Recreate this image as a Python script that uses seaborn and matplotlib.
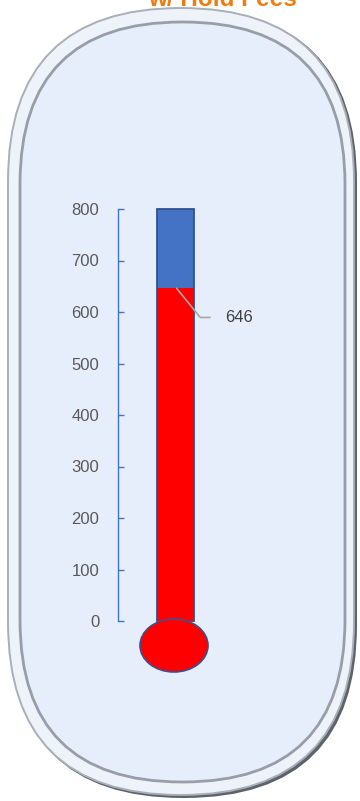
import matplotlib
matplotlib.use("Agg")
import matplotlib.pyplot as plt
from matplotlib.patches import FancyBboxPatch, Ellipse
import seaborn as sns

# ---- data ----
categories = ["w/ Hold Fees"]
max_values = [800]
values = [646]
tick_values = [0, 100, 200, 300, 400, 500, 600, 700, 800]
tick_labels = ["0", "100", "200", "300", "400", "500", "600", "700", "800"]
title_text = "w/ Hold Fees"

BLUE = "#4472C4"
BLUE_EDGE = "#2F528F"
RED = "#FF0000"
AXIS_BLUE = "#4472C4"
LABEL_GREY = "#595959"

W, H = 360, 801
fig = plt.figure(figsize=(W / 100, H / 100), dpi=100)
fig.patch.set_facecolor("white")

# ---- background capsule (pixel coordinates) ----
bg = fig.add_axes([0, 0, 1, 1], zorder=0)
bg.set_xlim(0, W)
bg.set_ylim(H, 0)
bg.axis("off")

# shadow
bg.add_patch(FancyBboxPatch((10, 9), 347, 789, boxstyle="round,pad=0,rounding_size=173",
                            facecolor="#5E636B", edgecolor="none"))
# outer rim
bg.add_patch(FancyBboxPatch((8, 8), 346, 787, boxstyle="round,pad=0,rounding_size=173",
                            facecolor="#EEF2F9", edgecolor="#A9AFB8", linewidth=1.4))
# inner face
bg.add_patch(FancyBboxPatch((20, 22), 325, 760, boxstyle="round,pad=0,rounding_size=162",
                            facecolor="#E7EEFB", edgecolor="#979EA9", linewidth=2.0))

# ---- chart axes ----
ax = fig.add_axes([118 / W, (H - 621) / H, 115 / W, 412 / H], zorder=1)
ax.set_facecolor("none")

sns.barplot(x=categories, y=max_values, color=BLUE, saturation=1, width=0.965,
            edgecolor=BLUE_EDGE, linewidth=1.3, ax=ax)
sns.barplot(x=categories, y=values, color=RED, saturation=1, width=0.965,
            edgecolor=RED, linewidth=0, ax=ax)
for p in ax.patches:
    p.set_clip_on(False)

ax.set_xlim(-1.5, 1.5)
ax.set_ylim(0, 800)
ax.set_yticks(tick_values)
ax.set_yticklabels(tick_labels)
ax.xaxis.set_visible(False)
ax.set_xlabel("")
ax.set_ylabel("")
for s in ["top", "right", "bottom"]:
    ax.spines[s].set_visible(False)
ax.spines["left"].set_color(AXIS_BLUE)
ax.spines["left"].set_linewidth(1.0)
ax.tick_params(axis="y", direction="in", length=4, width=1.0, color=AXIS_BLUE,
               pad=13.5, labelsize=12, labelcolor=LABEL_GREY)
for t in ax.get_yticklabels():
    t.set_fontfamily("Liberation Sans")

# data label with leader line
ax.annotate(str(values[0]), xy=(0.03, values[0]), xytext=(35, -21),
            textcoords="offset points", ha="left", va="center",
            fontsize=12, color="#404040", fontfamily="Liberation Sans",
            arrowprops=dict(arrowstyle="-", color="#A6A6A6", lw=1.2,
                            connectionstyle="angle,angleA=0,angleB=-51,rad=0",
                            shrinkA=9, shrinkB=0),
            annotation_clip=False)

# ---- overlay: bulb and title ----
ov = fig.add_axes([0, 0, 1, 1], zorder=2)
ov.set_xlim(0, W)
ov.set_ylim(H, 0)
ov.axis("off")
ov.set_facecolor("none")
ov.add_patch(Ellipse((174, 645.5), 68, 53, facecolor=RED, edgecolor="#3B4F8F", linewidth=1.2))
ov.text(222, 6, title_text, ha="center", va="baseline", fontsize=17.5,
        fontweight="bold", color="#EE7D0E", fontfamily="Liberation Sans")

fig.savefig("out.png", dpi=100)
